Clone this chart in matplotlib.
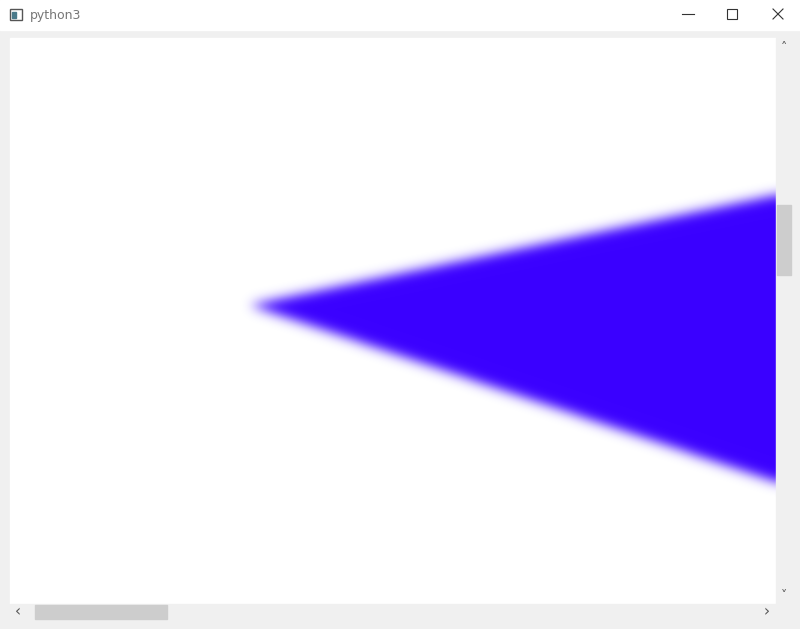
import numpy as np
import matplotlib
matplotlib.use('Agg')
from matplotlib import pyplot as plt
from matplotlib.path import Path
import matplotlib.patches as mp

# triangle vertices in window pixel coordinates (x right, y down)
tri_x = [250, 800, 800]
tri_y = [305, 190, 490]
tri_color = (0.23, 0.0, 1.0)
blur_sigma = 6.0

W, H = 800, 629
fig = plt.figure(figsize=(W/100, H/100), dpi=100, facecolor='#f0f0f0')
ax = fig.add_axes([0, 0, 1, 1])
ax.set_xlim(0, W)
ax.set_ylim(H, 0)
ax.axis('off')

# title bar
ax.add_patch(mp.Rectangle((0, 0), W, 30, color='white', zorder=1))
ax.add_patch(mp.Rectangle((10, 9), 12, 11, fill=False, ec='#555555', lw=1, zorder=2))
ax.add_patch(mp.Rectangle((12, 12), 4, 6, color='#4a7a8a', zorder=2))
ax.text(30, 15, 'python3', fontsize=9, color='#777777', va='center', zorder=2)
ax.plot([682, 694], [14, 14], color='#333333', lw=0.8, zorder=2)
ax.add_patch(mp.Rectangle((727, 9), 10, 10, fill=False, ec='#333333', lw=0.8, zorder=2))
ax.plot([773, 783], [9, 19], color='#333333', lw=0.8, zorder=2)
ax.plot([773, 783], [19, 9], color='#333333', lw=0.8, zorder=2)

# content area (white)
x0, y0, x1, y1 = 10, 38, 776, 604
ax.add_patch(mp.Rectangle((x0, y0), x1-x0, y1-y0, color='white', zorder=1))

# blurred triangle rendered as image
xs = np.arange(x0, x1) + 0.5
ys = np.arange(y0, y1) + 0.5
gx, gy = np.meshgrid(xs, ys)
path = Path(np.column_stack([tri_x, tri_y]))
mask = path.contains_points(np.column_stack([gx.ravel(), gy.ravel()])).reshape(gx.shape).astype(float)
k = np.arange(-18, 19)
kern = np.exp(-k**2/(2*blur_sigma**2))
kern /= kern.sum()
pad = np.pad(mask, 18, mode='edge')
pad = np.apply_along_axis(lambda r: np.convolve(r, kern, mode='same'), 1, pad)
pad = np.apply_along_axis(lambda c: np.convolve(c, kern, mode='same'), 0, pad)
blur = pad[18:-18, 18:-18]
rgba = np.zeros(blur.shape + (4,))
rgba[..., :3] = tri_color
rgba[..., 3] = np.clip(blur, 0, 1)
ax.imshow(rgba, extent=(x0, x1, y1, y0), interpolation='bilinear', zorder=2, aspect='auto')

# vertical scrollbar
ax.add_patch(mp.Rectangle((776, 38), 16, 566, color='#f0f0f0', zorder=3))
ax.add_patch(mp.Rectangle((777, 205), 14, 70, color='#cdcdcd', zorder=4))
ax.text(784, 47, '˄', fontsize=9, ha='center', va='center', color='#555555', zorder=4)
ax.text(784, 596, '˅', fontsize=9, ha='center', va='center', color='#555555', zorder=4)
# horizontal scrollbar
ax.add_patch(mp.Rectangle((10, 604), 766, 16, color='#f0f0f0', zorder=3))
ax.add_patch(mp.Rectangle((35, 605), 132, 14, color='#cdcdcd', zorder=4))
ax.text(18, 612, '‹', fontsize=11, ha='center', va='center', color='#555555', zorder=4)
ax.text(767, 612, '›', fontsize=11, ha='center', va='center', color='#555555', zorder=4)

fig.savefig('out.png', dpi=100, facecolor=fig.get_facecolor())
